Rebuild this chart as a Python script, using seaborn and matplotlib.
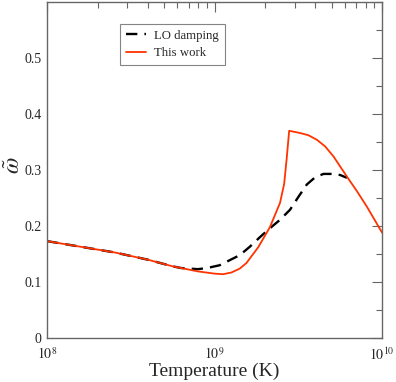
import numpy as np
import pandas as pd
import matplotlib
matplotlib.use("Agg")
import matplotlib.pyplot as plt
from matplotlib.ticker import LogLocator, MultipleLocator, FixedLocator
import seaborn as sns

# log10 of temperature (K) and omega-tilde values
logT_lo = [8.0, 8.2, 8.4, 8.6, 8.75, 8.8, 8.9, 8.955, 9.03, 9.09, 9.15, 9.21,
           9.27, 9.33, 9.39, 9.45, 9.5, 9.55, 9.6, 9.65, 9.71, 9.75, 9.79]
omega_lo = [0.173, 0.163, 0.153, 0.140, 0.128, 0.125, 0.123, 0.125, 0.130, 0.139,
            0.148, 0.163, 0.180, 0.196, 0.211, 0.229, 0.252, 0.274, 0.287, 0.293,
            0.293, 0.291, 0.286]

logT_this = [8.0, 8.2, 8.4, 8.6, 8.75, 8.9, 9.0, 9.05, 9.1, 9.15, 9.19, 9.26,
             9.33, 9.39, 9.415, 9.43, 9.445, 9.51, 9.56, 9.61, 9.66, 9.71, 9.79,
             9.85, 9.91, 10.0]
omega_this = [0.173, 0.163, 0.153, 0.140, 0.128, 0.119, 0.115, 0.114, 0.117, 0.124,
              0.134, 0.162, 0.198, 0.241, 0.275, 0.320, 0.370, 0.366, 0.362, 0.354,
              0.342, 0.324, 0.288, 0.262, 0.234, 0.188]

sns.set_theme(style="white")
plt.rcParams['font.family'] = ['Liberation Serif', 'DejaVu Serif']
plt.rcParams['mathtext.fontset'] = 'stix'

lo = pd.DataFrame({"T": np.power(10.0, logT_lo), "w": omega_lo})
me = pd.DataFrame({"T": np.power(10.0, logT_this), "w": omega_this})

fig = plt.figure(figsize=(3.96, 3.82), dpi=100)
ax = fig.add_axes([0.119, 0.115, 0.846, 0.88])

sns.lineplot(data=lo, x="T", y="w", ax=ax, color="black", lw=1.7,
             linestyle=(0, (4.8, 3.0)), label="LO damping")
sns.lineplot(data=me, x="T", y="w", ax=ax, color="#ff3300", lw=1.3,
             label="This work")

ax.set_xscale("log")
ax.set_xlim(1e8, 1e10)
ax.set_ylim(0, 0.6)

ax.xaxis.set_major_locator(FixedLocator([1e8, 1e9, 1e10]))
ax.xaxis.set_minor_locator(LogLocator(base=10, subs=np.arange(2, 10)))
ax.yaxis.set_major_locator(FixedLocator([0, 0.1, 0.2, 0.3, 0.4, 0.5]))
ax.yaxis.set_minor_locator(MultipleLocator(0.05))
ax.set_yticklabels(["0", "0.1", "0.2", "0.3", "0.4", "0.5"])
ax.set_xticklabels(["$10^8$", "$10^9$", "$10^{10}$"])

for s in ax.spines.values():
    s.set_color("#666666")
    s.set_linewidth(1.0)
ax.tick_params(which="both", direction="in", top=True, right=True,
               color="#666666", labelsize=10)
ax.tick_params(axis="x", which="major", pad=6)
ax.tick_params(axis="y", which="major", pad=4)
ax.tick_params(which="major", length=7, width=0.8)
ax.tick_params(which="minor", length=4, width=0.8)

ax.set_xlabel("Temperature (K)", fontsize=14, labelpad=0)
ax.set_ylabel(r"$\tilde{\omega}$", fontsize=17)
ax.yaxis.set_label_coords(-0.066, 0.515)

leg = ax.legend(loc="upper left", bbox_to_anchor=(0.218, 0.935), fontsize=9.2,
                frameon=True, fancybox=False, handlelength=1.6,
                borderpad=0.45, labelspacing=0.45, handletextpad=0.6,
                borderaxespad=0)
leg.get_frame().set_edgecolor("#666666")
leg.get_frame().set_linewidth(0.8)

fig.savefig("out.png", dpi=100)
